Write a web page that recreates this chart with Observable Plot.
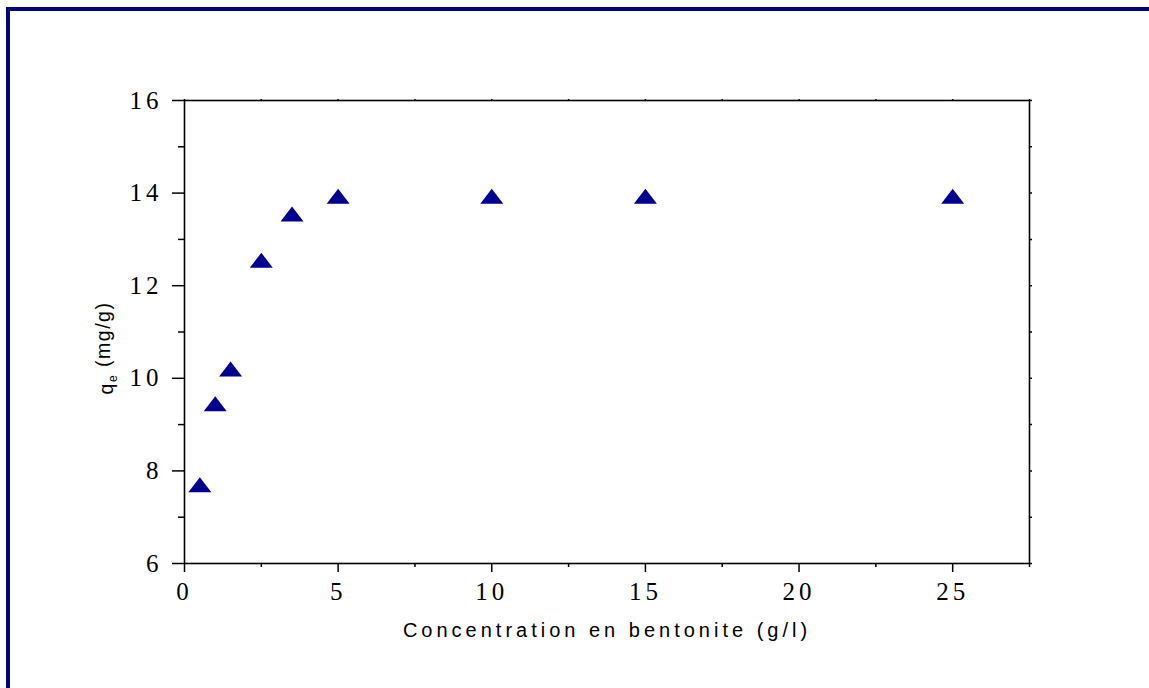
<!DOCTYPE html>
<html>
<head>
<meta charset="utf-8">
<script src="https://cdn.jsdelivr.net/npm/d3@7"></script>
<script src="https://cdn.jsdelivr.net/npm/@observablehq/plot@0.6"></script>
<style>
  html, body { margin: 0; padding: 0; background: #fff; overflow: hidden; }
  #wrap { position: relative; width: 1149px; height: 688px; }
  #border { position: absolute; left: 6px; top: 7px; width: 1200px; height: 700px;
            border-left: 4px solid #000080; border-top: 4px solid #000080; }
  #chart { position: absolute; left: 0; top: 0; }
</style>
</head>
<body>
<div id="wrap"><div id="border"></div><div id="chart"></div></div>
<script>
// Data
const concentration = [0.5, 1, 1.5, 2.5, 3.5, 5, 10, 15, 25];   // g/l
const qe = [7.7, 9.45, 10.2, 12.55, 13.55, 13.93, 13.93, 13.93, 13.93]; // mg/g

const xMajorTicks = [0, 5, 10, 15, 20, 25];
const xMinorTicks = [2.5, 7.5, 12.5, 17.5, 22.5, 27.5];
const yMajorTicks = [6, 8, 10, 12, 14, 16];
const yMinorTicks = [7, 9, 11, 13, 15];
const xLabel = "Concentration en bentonite (g/l)";
const yLabel = "qe (mg/g)";

const data = concentration.map((c, i) => ({c, q: qe[i]}));

// flattened triangle symbol (centered on its bounding box)
const flatTriangle = {
  draw(ctx) {
    const w = 23, h = 15;
    ctx.moveTo(0, -h / 2);
    ctx.lineTo(w / 2, h / 2);
    ctx.lineTo(-w / 2, h / 2);
    ctx.closePath();
  }
};

const serif = "'Liberation Serif', 'Times New Roman', serif";
const sans = "'Liberation Sans', Arial, sans-serif";
const allX = [...xMajorTicks, ...xMinorTicks];
const allY = [...yMajorTicks, ...yMinorTicks];

const svg = Plot.plot({
  width: 1149,
  height: 688,
  marginLeft: 184,
  marginRight: 120,
  marginTop: 100,
  marginBottom: 125,
  style: {background: "transparent", color: "black"},
  x: {domain: [0, 27.5]},
  y: {domain: [6, 16]},
  marks: [
    Plot.frame({stroke: "black", strokeWidth: 1.6}),
    Plot.axisX({ticks: xMajorTicks, tickSize: 9, tickPadding: 10, strokeWidth: 1.5,
                fontSize: 25, fontFamily: serif, tickFormat: d => String(d), label: null}),
    Plot.axisX({ticks: xMinorTicks, tickSize: 4, strokeWidth: 1.5, tickFormat: () => "", label: null}),
    Plot.axisX({anchor: "top", ticks: allX, tickSize: 2, strokeWidth: 1.5, tickFormat: () => "", label: null}),
    Plot.axisY({ticks: yMajorTicks, tickSize: 12, tickPadding: 10, strokeWidth: 1.5,
                fontSize: 25, fontFamily: serif, tickFormat: d => String(d), label: null}),
    Plot.axisY({ticks: yMinorTicks, tickSize: 6, strokeWidth: 1.5, tickFormat: () => "", label: null}),
    Plot.axisY({anchor: "right", ticks: allY, tickSize: 2, strokeWidth: 1.5, tickFormat: () => "", label: null}),
    Plot.dot(data, {x: "c", y: "q", symbol: flatTriangle, fill: "#000090", stroke: null, r: 5}),
    Plot.text([xLabel], {frameAnchor: "bottom", dy: 67, text: d => d, fontSize: 20,
                         fontFamily: sans, textAnchor: "middle", lineAnchor: "middle"}),
    Plot.text([yLabel], {frameAnchor: "left", dx: -78, dy: 16, rotate: -90, text: d => d,
                         fontSize: 19.5, fontFamily: sans, textAnchor: "middle", lineAnchor: "middle"})
  ]
});

document.getElementById("chart").appendChild(svg);

const s = d3.select(svg);
s.selectAll('g[aria-label="x-axis tick label"], g[aria-label="y-axis tick label"]')
  .style("letter-spacing", "4px");
// letter spacing for axis titles, and subscript for q_e
s.selectAll('g[aria-label="text"] text').each(function() {
  const t = d3.select(this);
  const content = t.text();
  if (content === xLabel) {
    t.style("letter-spacing", "4px");
  } else if (content === yLabel) {
    t.style("letter-spacing", "1.5px");
    t.text(null);
    t.append("tspan").text("q");
    t.append("tspan").attr("font-size", 12).attr("dy", "0.35em").text("e");
    t.append("tspan").attr("dy", "-0.35em").attr("font-size", 19.5).text(" (mg/g)");
  }
});
</script>
</body>
</html>
